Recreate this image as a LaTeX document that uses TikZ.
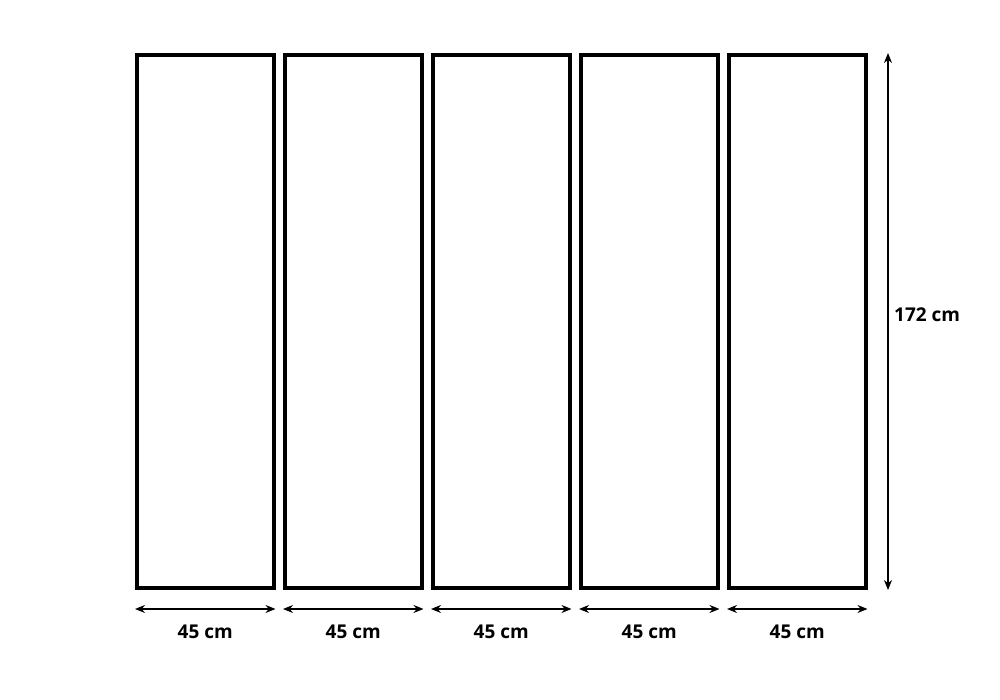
\documentclass[tikz,border=0pt]{standalone}
\usepackage{fontspec}
\setmainfont{Open Sans}
\usetikzlibrary{arrows.meta,calc}
\begin{document}
\begin{tikzpicture}[x=1pt,y=-1pt,
  panel/.style={draw=black,line width=4pt,fill=white,outer sep=0pt,inner sep=0pt},
  dim/.style={draw=black,line width=1.4pt,{Stealth[length=10pt,width=8pt]}-{Stealth[length=10pt,width=8pt]}},
  lbl/.style={font=\fontsize{19}{22}\selectfont\bfseries,inner sep=0pt}]
\useasboundingbox (0,0) rectangle (1000,700);
\foreach \i in {0,...,4}{
  \pgfmathsetmacro{\xl}{137+148*\i}
  \pgfmathsetmacro{\xr}{273.5+148*\i}
  \node[panel,minimum width=136.5pt,minimum height=533pt,anchor=north west] (p\i) at (\xl,55) {};
  \coordinate (a\i) at (\xl-2,609);
  \coordinate (b\i) at (\xr+2,609);
  \draw[dim] (a\i) -- (b\i);
  \node[lbl] (t\i) at ($(a\i)!0.5!(b\i)+(0,23)$) {45 cm};
}
\coordinate (vt) at (888,53);
\coordinate (vb) at (888,590);
\draw[dim] (vt) -- (vb);
\node[lbl,anchor=west] (h) at (894,315) {172 cm};
\end{tikzpicture}
\end{document}
